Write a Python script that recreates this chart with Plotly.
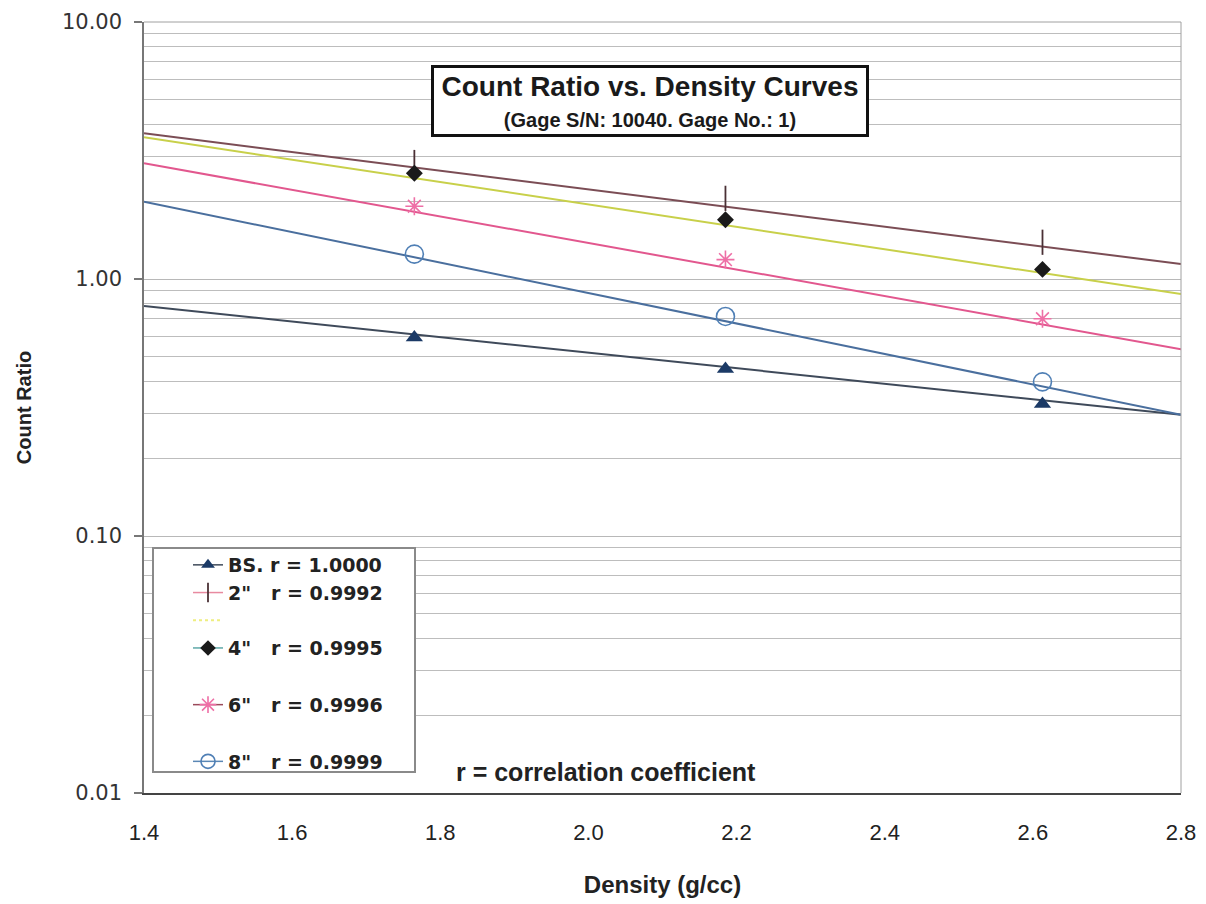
import plotly.graph_objects as go

# ---- data ----
density = [1.765, 2.185, 2.613]          # g/cc
bs_ratio = [0.592, 0.446, 0.326]
in2_ratio = [2.84, 2.06, 1.39]
in4_ratio = [2.58, 1.70, 1.09]
in6_ratio = [1.92, 1.19, 0.70]
in8_ratio = [1.25, 0.715, 0.398]

# trendline values at the ends of the density axis
x_range = [1.4, 2.8]
bs_trend = [0.785, 0.296]
in2_trend = [3.69, 1.144]
in4_trend = [3.56, 0.874]
in6_trend = [2.82, 0.533]
in8_trend = [2.00, 0.296]

series_names = ["BS.", '2"', '4"', '6"', '8"']
r_values = ["1.0000", "0.9992", "0.9995", "0.9996", "0.9999"]

# ---- layout geometry (page has an 8px body margin) ----
OFF = 8
W, H = 1206 - OFF, 904 - OFF
ML, MR, MT, MB = 144 - OFF, 25, 22 - OFF, 111
PW, PH = W - ML - MR, H - MT - MB


def px_x(p):
    return (p - OFF - ML) / PW


def px_y(p):
    return (H - MB - (p - OFF)) / PH


fig = go.Figure()

series = [
    # ratio, trend, marker symbol, marker color, size, trend colour, legend line colour, marker line width
    (bs_ratio, bs_trend, "triangle-up", "#1b3a66", 15, "#3f4a5a", "#3f4a5a", 0),
    (in2_ratio, in2_trend, "line-ns", "#4a3035", 18, "#7b4d55", "#e88aa0", 1.8),
    (in4_ratio, in4_trend, "diamond", "#1a1a1a", 13, "#c8d04a", "#5ea8a8", 0),
    (in6_ratio, in6_trend, "asterisk-open", "#ee6fa6", 15, "#e2578e", "#9a4a5a", 1.6),
    (in8_ratio, in8_trend, "circle-open", "#4f7fb5", 18, "#4a6f9e", "#5a87b5", 1.6),
]


def marker_style(sym, mcol, msz, mlw):
    if sym in ("line-ns", "asterisk-open", "circle-open"):
        return dict(symbol=sym, size=msz, color=mcol, line=dict(color=mcol, width=mlw))
    return dict(symbol=sym, size=msz, color=mcol)


# trendlines
for ratio, tr, sym, mcol, msz, tcol, lcol, mlw in series:
    fig.add_trace(go.Scatter(x=x_range, y=tr, mode="lines",
                             line=dict(color=tcol, width=2),
                             showlegend=False, hoverinfo="skip"))

# data markers
for ratio, tr, sym, mcol, msz, tcol, lcol, mlw in series:
    fig.add_trace(go.Scatter(x=density, y=ratio, mode="markers",
                             marker=marker_style(sym, mcol, msz, mlw),
                             showlegend=False))

# legend entries (styled like the original's legend, no data drawn)
NB = "\u00a0"
labels = [
    "BS." + NB + "r = " + r_values[0],
    '2"' + NB * 3 + "r = " + r_values[1],
    None,
    '4"' + NB * 3 + "r = " + r_values[2],
    '6"' + NB * 3 + "r = " + r_values[3],
    '8"' + NB * 3 + "r = " + r_values[4],
]
groups = ["a", "a", "a", "a", "b", "c"]
leg_styles = [series[0], series[1], None, series[2], series[3], series[4]]
for lab, grp, st in zip(labels, groups, leg_styles):
    if st is None:
        fig.add_trace(go.Scatter(x=[None], y=[None], mode="lines",
                                 line=dict(color="#eeee80", width=2, dash="dot"),
                                 name=NB, legendgroup=grp))
        continue
    ratio, tr, sym, mcol, msz, tcol, lcol, mlw = st
    lim = 14 if sym in ("line-ns", "asterisk-open", "circle-open") else 12
    fig.add_trace(go.Scatter(x=[None], y=[None], mode="lines+markers",
                             line=dict(color=lcol, width=1.5),
                             marker=marker_style(sym, mcol, min(msz, lim), mlw),
                             name=lab, legendgroup=grp))

fig.update_layout(
    width=W, height=H,
    margin=dict(l=ML, r=MR, t=MT, b=MB, autoexpand=False),
    paper_bgcolor="white", plot_bgcolor="white",
    showlegend=True,
    legend=dict(x=px_x(188), y=px_y(546), xanchor="left", yanchor="top",
                bgcolor="rgba(0,0,0,0)", borderwidth=0,
                font=dict(family="DejaVu Sans", size=19, color="#222", weight="bold"),
                tracegroupgap=29, traceorder="grouped", itemclick=False),
    xaxis=dict(range=x_range, dtick=0.2, tick0=1.4, tickformat=".1f",
               showgrid=False, zeroline=False, showline=True, automargin=False,
               linecolor="#444", linewidth=2, ticks="",
               tickfont=dict(family="Liberation Sans", size=22, color="#222"),
               ticklabelstandoff=19,
               title=dict(text="Density (g/cc)", standoff=32,
                          font=dict(family="Liberation Sans", size=24, color="#222", weight="bold"))),
    yaxis=dict(type="log", range=[-2, 1], dtick=1, tickformat=".2f", automargin=False,
               showgrid=True, gridcolor="#b8b8b8", gridwidth=1,
               minor=dict(dtick="D1", showgrid=True, gridcolor="#bdbdbd", gridwidth=1, ticks=""),
               ticks="outside", ticklen=8, tickcolor="#777", tickwidth=1.5,
               showline=True, linecolor="#777", linewidth=1.5, zeroline=False,
               tickfont=dict(family="DejaVu Sans", size=21, color="#333"),
               ticklabelstandoff=8,
               title=dict(text="Count Ratio", standoff=25,
                          font=dict(family="Liberation Sans", size=20, color="#222", weight="bold"))),
)

# frame (top and right) and legend box
fig.add_shape(type="line", xref="paper", yref="paper", x0=0, x1=1, y0=1, y1=1,
              line=dict(color="#a0a0a0", width=1))
fig.add_shape(type="line", xref="paper", yref="paper", x0=1, x1=1, y0=0, y1=1,
              line=dict(color="#a0a0a0", width=1))
fig.add_shape(type="rect", xref="paper", yref="paper",
              x0=px_x(153), x1=px_x(415), y0=px_y(772), y1=px_y(548),
              line=dict(color="#8a8a8a", width=2), fillcolor="white", layer="above")

# title box
fig.add_annotation(xref="paper", yref="paper", x=px_x(650), y=px_y(101.5),
                   xanchor="center", yanchor="middle", showarrow=False,
                   text="<span style='font-size:28px'>Count Ratio vs. Density Curves</span><br><span style='font-size:20px'>(Gage S/N: 10040. Gage No.: 1)</span>",
                   font=dict(family="Liberation Sans", size=24, color="#1a1a1a", weight="bold"),
                   align="center", bgcolor="white", bordercolor="#111", borderwidth=3,
                   borderpad=0, width=432, height=66, valign="middle")

fig.add_annotation(xref="paper", yref="paper", x=px_x(606), y=px_y(772),
                   xanchor="center", yanchor="middle", showarrow=False,
                   text="r = correlation coefficient",
                   font=dict(family="Liberation Sans", size=25, color="#222", weight="bold"))

fig.write_html("out.html")
